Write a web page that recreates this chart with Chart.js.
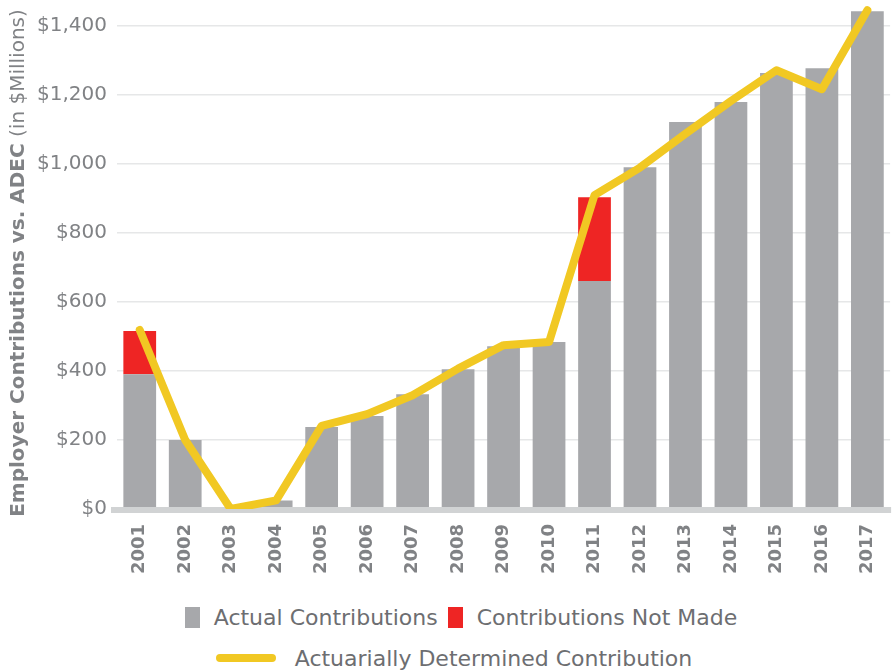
<!DOCTYPE html>
<html>
<head>
<meta charset="utf-8">
<script src="https://cdn.jsdelivr.net/npm/chart.js@4.4.1/dist/chart.umd.min.js"></script>
<style>
  html, body { margin: 0; padding: 0; background: #fff; }
  #page { position: relative; width: 896px; height: 672px; }
  #wrap { position: absolute; left: 0; top: 0; width: 896px; height: 590px; }
  .row {
    position: absolute; left: 0; width: 896px; height: 22px;
    display: flex; justify-content: center; align-items: center;
    font-family: "DejaVu Sans", sans-serif; font-size: 22px; color: #6d6e71;
  }
  .item { display: flex; align-items: center; margin: 0 5px; }
  .box { width: 15px; height: 21px; margin-right: 14px; }
  .swatch-line { width: 60px; height: 8px; border-radius: 4px; margin-right: 19px; }
</style>
</head>
<body>
<div id="page">
  <div id="wrap"><canvas id="contribChart"></canvas></div>
</div>
<script>
'use strict';

const years = ['2001', '2002', '2003', '2004', '2005', '2006', '2007', '2008', '2009',
  '2010', '2011', '2012', '2013', '2014', '2015', '2016', '2017'];
const actualContrib = [391, 200, 0, 25, 238, 270, 333, 405, 472, 484, 661, 991, 1122, 1180, 1264, 1278, 1443];
const notMade = [125, 0, 0, 0, 0, 0, 0, 0, 0, 0, 243, 0, 0, 0, 0, 0, 0];
const adec = [519, 200, 0, 25, 241, 275, 330, 407, 475, 484, 910, 990, 1088, 1183, 1272, 1217, 1446];
const yTicks = [0, 200, 400, 600, 800, 1000, 1200, 1400];

const GRAY = '#a7a8ab';
const RED = '#ee2524';
const YELLOW = '#f1c823';
const TEXT = '#808285';

// thick light baseline under the bars, painted just before the line dataset
const baseline = {
  id: 'baseline',
  beforeDatasetDraw(chart, args) {
    if (args.meta.type !== 'line') return;
    const ctx = chart.ctx;
    const y = chart.scales.y.getPixelForValue(0);
    ctx.save();
    ctx.strokeStyle = '#d1d3d4';
    ctx.lineWidth = 6;
    ctx.beginPath();
    ctx.moveTo(chart.chartArea.left - 6, y + 1);
    ctx.lineTo(chart.chartArea.right + 1, y + 1);
    ctx.stroke();
    ctx.restore();
  }
};

// y title: bold part + regular part, rotated
const yTitle = {
  id: 'yTitle',
  afterDraw(chart) {
    const ctx = chart.ctx;
    const boldText = 'Employer Contributions vs. ADEC';
    const normalText = ' (in $Millions)';
    const boldFont = 'bold 20px "DejaVu Sans", sans-serif';
    const normalFont = '20px "DejaVu Sans", sans-serif';
    ctx.save();
    ctx.font = boldFont;
    const wb = ctx.measureText(boldText).width;
    ctx.font = normalFont;
    const wn = ctx.measureText(normalText).width;
    const total = wb + wn;
    ctx.translate(19, 263);
    ctx.rotate(-Math.PI / 2);
    ctx.textBaseline = 'middle';
    ctx.textAlign = 'left';
    ctx.fillStyle = TEXT;
    ctx.font = boldFont;
    ctx.fillText(boldText, -total / 2, 0);
    ctx.font = normalFont;
    ctx.fillText(normalText, -total / 2 + wb, 0);
    ctx.restore();
  }
};

const chart = new Chart(document.getElementById('contribChart'), {
  type: 'bar',
  data: {
    labels: years,
    datasets: [
      {
        type: 'line',
        label: 'Actuarially Determined Contribution',
        data: adec,
        borderColor: YELLOW,
        backgroundColor: YELLOW,
        borderWidth: 8,
        borderCapStyle: 'round',
        borderJoinStyle: 'round',
        pointRadius: 0,
        tension: 0,
        stack: 'adec',
        order: 0
      },
      {
        label: 'Actual Contributions',
        data: actualContrib,
        backgroundColor: GRAY,
        stack: 'contrib',
        barPercentage: 0.72,
        categoryPercentage: 1,
        order: 1
      },
      {
        label: 'Contributions Not Made',
        data: notMade,
        backgroundColor: RED,
        stack: 'contrib',
        barPercentage: 0.72,
        categoryPercentage: 1,
        order: 2
      }
    ]
  },
  options: {
    responsive: true,
    maintainAspectRatio: false,
    animation: false,
    layout: { padding: { top: 2, right: 1, left: 0, bottom: 0 } },
    plugins: {
      legend: { display: false },
      tooltip: { enabled: false }
    },
    scales: {
      x: {
        stacked: true,
        offset: true,
        grid: { display: false },
        border: { display: false },
        ticks: {
          color: TEXT,
          font: { family: '"DejaVu Sans", sans-serif', size: 18, weight: 'bold' },
          minRotation: 90,
          maxRotation: 90,
          padding: 7
        },
        afterFit(scale) { scale.height = 81; }
      },
      y: {
        stacked: true,
        min: 0,
        max: 1470,
        border: { display: false },
        grid: { color: '#e6e7e8', lineWidth: 1.5, drawTicks: false },
        afterBuildTicks(scale) { scale.ticks = yTicks.map(v => ({ value: v })); },
        ticks: {
          color: TEXT,
          padding: 10,
          font: { family: '"DejaVu Sans", sans-serif', size: 20 },
          callback: v => '$' + v.toLocaleString('en-US')
        },
        afterFit(scale) {
          scale.width = 117;
          scale.paddingTop = 0;
          scale.paddingBottom = 0;
        }
      }
    }
  },
  plugins: [baseline, yTitle]
});

// legend rows under the chart
const legendRows = [
  { top: 606, shift: 26, items: [
    { label: 'Actual Contributions', color: GRAY, kind: 'box' },
    { label: 'Contributions Not Made', color: RED, kind: 'box' }] },
  { top: 647, shift: 12, items: [
    { label: 'Actuarially Determined Contribution', color: YELLOW, kind: 'line' }] }
];
const page = document.getElementById('page');
legendRows.forEach(row => {
  const r = document.createElement('div');
  r.className = 'row';
  r.style.top = row.top + 'px';
  r.style.paddingLeft = row.shift + 'px';
  r.style.boxSizing = 'border-box';
  row.items.forEach(it => {
    const item = document.createElement('div');
    item.className = 'item';
    const sw = document.createElement('span');
    sw.className = it.kind === 'box' ? 'box' : 'swatch-line';
    sw.style.background = it.color;
    const txt = document.createElement('span');
    txt.textContent = it.label;
    item.appendChild(sw);
    item.appendChild(txt);
    r.appendChild(item);
  });
  page.appendChild(r);
});
</script>
</body>
</html>
